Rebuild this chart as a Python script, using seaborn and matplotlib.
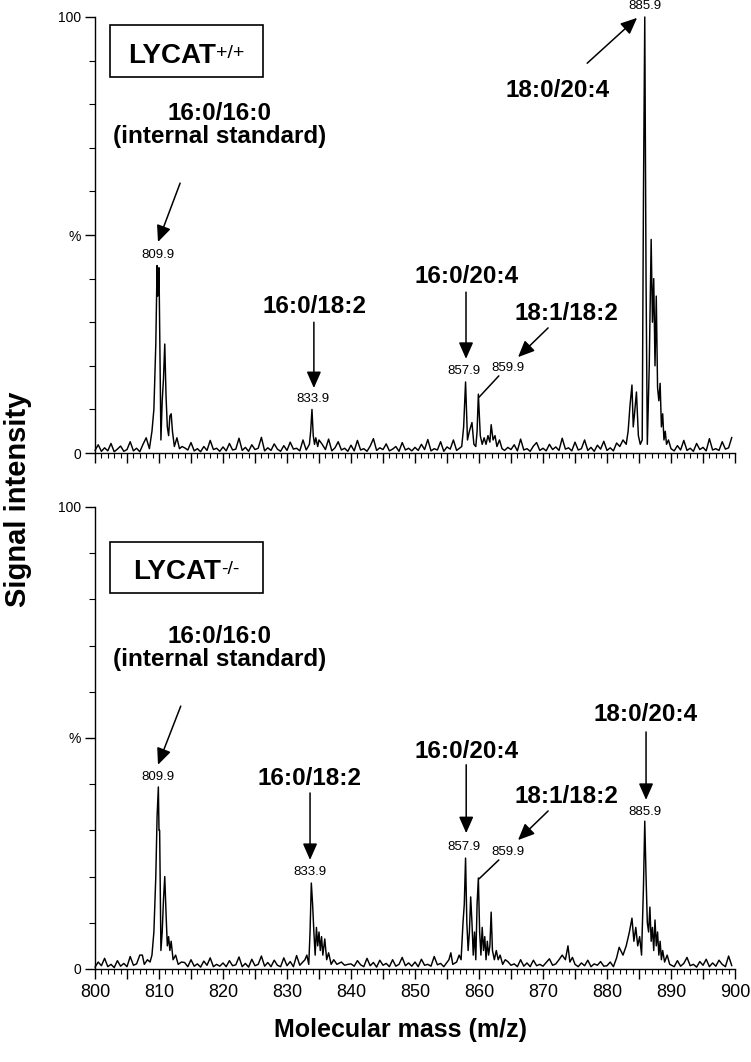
import numpy as np
import pandas as pd
import seaborn as sns
import matplotlib.pyplot as plt
from matplotlib.ticker import MultipleLocator, FixedLocator, FuncFormatter
from matplotlib.patches import Rectangle

# baseline noise, one value every 0.5 m/z from 800 to 899.5
noise_top = [
    0.6, 1.9, 0.4, 1.2, 0.5, 2.2, 0.3, 0.9, 1.6, 0.4, 0.8, 2.6, 0.5, 1.1, 0.3, 1.7, 0.7, 3.1, 0.6, 1.0,
    0.4, 1.3, 0.6, 2.0, 0.5, 0.9, 1.8, 0.4, 1.2, 0.7, 2.4, 0.5, 1.0, 0.3, 1.5, 0.6, 2.9, 0.8, 1.1, 0.4,
    1.4, 0.5, 2.2, 0.7, 0.9, 3.4, 0.6, 1.3, 0.4, 1.9, 0.8, 1.1, 3.6, 0.5, 1.2, 0.6, 2.1, 0.9, 0.4, 1.7,
    0.6, 2.5, 0.9, 1.1, 0.5, 3.0, 0.7, 1.4, 2.3, 0.6, 1.0, 2.0, 0.8, 3.2, 0.5, 1.2, 2.6, 0.7, 1.1, 0.4,
    1.8, 0.5, 2.9, 0.7, 1.0, 0.4, 1.6, 3.3, 0.6, 1.2, 0.8, 2.1, 0.5, 0.9, 1.5, 0.4, 2.4, 0.7, 1.1, 0.5,
    1.3, 0.6, 2.0, 0.8, 3.1, 0.5, 1.0, 0.7, 2.6, 0.4, 1.4, 0.9, 3.0, 0.6, 1.2, 0.5, 2.2, 0.8, 1.0, 0.6,
    0.7, 1.5, 0.5, 2.3, 0.9, 1.1, 0.4, 2.8, 0.6, 1.3, 0.8, 1.9, 0.5, 3.2, 0.7, 1.0, 0.4, 1.6, 2.4, 0.6,
    1.1, 0.5, 2.0, 0.8, 1.4, 0.6, 3.4, 0.9, 1.2, 0.5, 2.5, 0.7, 1.0, 3.0, 0.6, 1.3, 0.4, 1.8, 0.9, 2.7,
    0.6, 1.2, 0.5, 2.3, 3.5, 0.8, 1.0, 0.6, 2.0, 0.9, 1.1, 0.5, 1.4, 0.7, 2.2, 0.6, 1.0, 0.8, 1.5, 0.4,
    1.0, 0.5, 1.7, 0.7, 2.9, 0.6, 1.1, 0.4, 2.2, 0.8, 1.3, 0.5, 3.3, 0.7, 1.0, 0.6, 2.6, 0.9, 1.2, 3.6,
]
noise_bottom = [
    0.4, 1.5, 0.7, 2.3, 0.5, 1.0, 0.3, 1.8, 0.6, 1.2, 0.5, 2.7, 0.8, 1.1, 3.0, 0.4, 1.3, 0.6, 2.0, 0.9,
    0.5, 1.2, 0.6, 1.9, 0.4, 1.0, 2.2, 0.7, 1.4, 0.5, 2.0, 0.6, 1.1, 0.4, 1.7, 0.8, 2.4, 0.5, 1.0, 0.6,
    1.3, 0.5, 1.8, 0.7, 0.9, 2.6, 0.5, 1.2, 0.4, 2.1, 0.7, 1.0, 2.8, 0.6, 1.4, 0.5, 1.9, 0.8, 0.5, 2.4,
    0.7, 1.6, 0.5, 2.9, 0.8, 1.2, 3.1, 0.6, 1.0, 2.2, 0.5, 1.3, 0.7, 1.8, 0.4, 1.1, 0.6, 1.5, 0.8, 1.0,
    1.1, 0.6, 1.8, 0.9, 0.5, 2.3, 0.7, 1.4, 0.4, 1.9, 0.8, 1.2, 0.5, 2.0, 0.6, 1.0, 2.5, 0.7, 1.3, 0.6,
    1.5, 0.5, 2.1, 0.8, 1.0, 0.6, 2.7, 0.9, 1.2, 0.5, 1.8, 3.0, 1.4, 0.6, 1.0, 0.7, 1.2, 0.5, 0.9, 0.6,
    0.7, 1.2, 0.5, 1.7, 0.8, 1.0, 0.6, 1.4, 0.5, 1.6, 0.8, 1.1, 0.5, 2.0, 0.6, 1.3, 0.5, 1.9, 0.7, 1.0,
    0.6, 1.4, 2.2, 0.8, 1.1, 0.5, 1.7, 0.9, 2.6, 0.6, 1.0, 0.5, 1.3, 0.7, 1.9, 0.5, 1.1, 0.8, 1.6, 0.6,
    0.7, 1.5, 0.5, 2.4, 0.9, 1.1, 0.6, 1.8, 0.5, 1.2, 0.8, 1.0, 0.6, 1.4, 0.5, 1.2, 0.7, 1.0, 0.5, 1.3,
    0.9, 0.5, 1.8, 0.6, 1.2, 2.5, 0.7, 1.0, 0.4, 1.6, 0.8, 2.1, 0.5, 1.3, 0.6, 1.9, 1.0, 0.5, 2.8, 0.7,
]
noise_mz = np.arange(800, 900, 0.5)

# peak clusters, LYCAT+/+
peak_mz_top = [
    807.5, 808.0, 808.5, 808.9, 809.2, 809.5, 809.7, 809.8, 809.9, 810.0, 810.1, 810.3, 810.5,
    810.7, 810.9, 811.1, 811.3, 811.5, 811.7, 811.9, 812.1, 812.4, 812.8, 813.2, 813.6,
    833.5, 833.7, 833.9, 834.1, 834.3, 834.5, 834.8, 835.0,
    857.3, 857.6, 857.9, 858.2, 858.5, 858.9, 859.2, 859.5, 859.7, 859.9, 860.2, 860.5, 860.8,
    861.1, 861.4, 861.7, 861.9, 862.2, 862.5, 862.8, 863.2, 863.6,
    882.0, 882.5, 883.0, 883.3, 883.6, 883.9, 884.1, 884.3, 884.6, 884.9, 885.2, 885.5, 885.7,
    885.9, 886.1, 886.3, 886.6, 886.9, 887.1, 887.3, 887.5, 887.7, 887.9, 888.1, 888.3, 888.5,
    888.7, 888.9, 889.1, 889.3, 889.6, 890.0,
]
peak_int_top = [
    2.0, 3.5, 1.0, 5.0, 10.0, 25.0, 43.0, 36.0, 38.0, 42.5, 30.0, 3.0, 12.0,
    17.0, 25.0, 13.0, 6.0, 4.0, 8.5, 9.0, 5.0, 1.5, 3.5, 1.0, 1.5,
    2.0, 5.0, 10.0, 4.0, 2.0, 3.5, 1.5, 3.0,
    1.5, 6.0, 16.3, 3.0, 5.0, 7.0, 2.0, 1.5, 5.0, 13.5, 4.0, 2.0, 3.5,
    2.0, 4.0, 2.5, 6.5, 3.0, 4.0, 1.5, 3.0, 1.0,
    1.5, 3.0, 2.0, 5.0, 11.0, 15.6, 6.0, 9.0, 14.0, 4.0, 2.0, 3.0, 60.0,
    100.0, 40.0, 2.0, 20.0, 49.0, 30.0, 40.0, 20.0, 36.0, 15.0, 12.0, 16.0, 6.0,
    9.0, 3.0, 5.0, 2.0, 3.0, 1.0,
]

# peak clusters, LYCAT-/-
peak_mz_bottom = [
    807.4, 807.7, 808.2, 808.6, 808.9, 809.2, 809.5, 809.7, 809.9, 810.0, 810.1, 810.3, 810.5,
    810.7, 810.9, 811.1, 811.3, 811.5, 811.7, 811.9, 812.2, 812.6, 813.0, 813.5,
    832.8, 833.1, 833.4, 833.6, 833.8, 834.0, 834.2, 834.4, 834.6, 834.8, 835.0, 835.2, 835.4,
    835.6, 835.9, 836.2, 836.5, 836.9, 837.3, 837.8,
    855.3, 855.6, 855.9, 856.5, 856.9, 857.2, 857.5, 857.7, 857.9, 858.1, 858.3, 858.5, 858.7,
    858.9, 859.1, 859.3, 859.5, 859.7, 859.9, 860.1, 860.3, 860.5, 860.7, 860.9, 861.1, 861.3,
    861.5, 861.7, 861.9, 862.1, 862.4, 862.7, 863.0, 863.3, 863.7, 864.1,
    872.5, 873.0, 873.5, 873.9, 874.2, 874.6,
    881.9, 882.5, 883.0, 883.5, 883.9, 884.2, 884.5, 884.8, 885.1, 885.4, 885.7, 885.9, 886.1,
    886.3, 886.5, 886.7, 886.9, 887.1, 887.3, 887.5, 887.7, 887.9, 888.1, 888.3, 888.5, 888.7,
    889.0, 889.4, 889.8,
]
peak_int_bottom = [
    3.0, 1.0, 2.0, 1.5, 3.0, 8.0, 20.0, 33.0, 39.4, 30.0, 30.0, 4.0, 8.0,
    15.0, 20.0, 12.0, 5.0, 7.0, 4.0, 6.0, 2.0, 3.0, 1.0, 1.5,
    2.0, 3.0, 1.0, 8.0, 18.6, 14.0, 8.0, 3.0, 9.0, 5.0, 8.0, 4.0, 7.0,
    3.0, 6.5, 2.0, 3.5, 1.0, 2.0, 1.0,
    2.0, 3.5, 1.0, 1.5, 3.0, 2.0, 10.0, 14.0, 24.0, 10.0, 4.0, 8.0, 15.6,
    10.0, 3.0, 8.0, 2.0, 14.0, 19.7, 8.0, 3.0, 9.0, 4.0, 7.0, 2.0, 6.0,
    3.0, 5.0, 12.3, 4.0, 2.0, 4.0, 2.0, 3.0, 1.0, 2.0,
    2.0, 3.0, 2.0, 5.0, 1.5, 2.5,
    4.7, 3.0, 5.0, 8.0, 11.0, 6.0, 9.0, 5.0, 7.0, 3.0, 18.0, 32.0, 20.0,
    10.0, 8.0, 13.4, 6.0, 9.0, 4.0, 10.6, 5.0, 8.0, 3.0, 6.0, 2.0, 4.0,
    1.5, 3.0, 1.0,
]

# label text, label position, arrow start/end, peak tag
labels_top = [
    ("16:0/16:0\n(internal standard)", (819.4, 71.1), (813.3, 61.9), (809.84, 48.4), "809.9", (809.8, 45.4)),
    ("16:0/18:2", (834.3, 32.1), (834.2, 30.0), (834.2, 14.9), "833.9", (834.1, 12.4)),
    ("16:0/20:4", (858.0, 39.0), (857.97, 36.9), (857.97, 21.6), "857.9", (857.7, 18.8)),
    ("18:1/18:2", (873.6, 30.5), (870.8, 28.7), (866.1, 22.0), "859.9", (864.5, 19.5)),
    ("18:0/20:4", (872.3, 81.7), (876.9, 89.4), (884.7, 99.8), "885.9", (885.9, 102.5)),
]
labels_bottom = [
    ("16:0/16:0\n(internal standard)", (819.4, 65.6), (813.4, 56.9), (809.84, 44.2), "809.9", (809.9, 41.6)),
    ("16:0/18:2", (833.5, 39.8), (833.6, 38.1), (833.6, 23.6), "833.9", (833.6, 21.0)),
    ("16:0/20:4", (858.0, 45.7), (858.0, 44.2), (858.0, 29.4), "857.9", (857.7, 26.4)),
    ("18:1/18:2", (873.6, 35.9), (870.8, 34.2), (866.1, 27.9), "859.9", (864.5, 25.3)),
    ("18:0/20:4", (886.1, 53.7), (886.1, 51.3), (886.1, 36.6), "885.9", (885.9, 34.0)),
]
# thin leader from the 859.9 tag to its peak
leader_top = ((863.1, 17.7), (860.0, 12.8))
leader_bottom = ((863.1, 23.6), (860.0, 19.5))

sns.set_style("ticks")
plt.rcParams['font.family'] = ['Liberation Sans', 'DejaVu Sans']
for key in ["text.color", "axes.labelcolor", "xtick.color", "ytick.color", "axes.edgecolor"]:
    plt.rcParams[key] = "black"


def build_spectrum(noise, pk_mz, pk_int):
    pk_mz = np.array(pk_mz)
    keep = [np.min(np.abs(pk_mz - m)) > 0.3 for m in noise_mz]
    df = pd.DataFrame({
        "mz": np.concatenate([noise_mz[keep], pk_mz]),
        "intensity": np.concatenate([np.array(noise)[keep], np.array(pk_int)]),
    })
    return df.sort_values("mz").reset_index(drop=True)


def draw_panel(ax, df, labels, leader, genotype, box_y, text_y, text_x):
    sns.lineplot(data=df, x="mz", y="intensity", ax=ax, color="black",
                 linewidth=1.05, estimator=None, sort=True)
    for line in ax.lines:
        line.set_clip_on(False)
    ax.set_xlim(800, 900)
    ax.set_ylim(0, 100)
    ax.set_xlabel("")
    ax.set_ylabel("")
    sns.despine(ax=ax)
    for s in ["left", "bottom"]:
        ax.spines[s].set_linewidth(1.0)

    ax.xaxis.set_major_locator(MultipleLocator(5))
    ax.xaxis.set_minor_locator(MultipleLocator(1))
    ax.xaxis.set_major_formatter(FuncFormatter(lambda v, p: f"{v:.0f}" if v % 10 == 0 else ""))
    ax.yaxis.set_major_locator(FixedLocator([0, 50, 100]))
    ax.yaxis.set_minor_locator(MultipleLocator(10))
    ax.set_yticklabels(["0", "%", "100"])
    ax.tick_params(axis="x", which="major", length=7, width=1.0, labelsize=13, pad=4)
    ax.tick_params(axis="x", which="minor", length=3.5, width=0.8)
    ax.tick_params(axis="y", which="major", length=7, width=1.0, labelsize=10, pad=3)
    ax.tick_params(axis="y", which="minor", length=4, width=0.8)

    for text, tpos, a0, a1, tag, gpos in labels:
        ax.text(tpos[0], tpos[1], text, ha="center", va="baseline", fontsize=17.5,
                fontweight="bold", linespacing=1.0)
        ax.annotate("", xy=a1, xytext=a0,
                    arrowprops=dict(arrowstyle="-|>,head_length=0.5,head_width=0.22",
                                    color="black", lw=1.1, mutation_scale=20,
                                    shrinkA=0, shrinkB=0))
        ax.text(gpos[0], gpos[1], tag, ha="center", va="center", fontsize=9.5)
    ax.plot([leader[0][0], leader[1][0]], [leader[0][1], leader[1][1]],
            color="black", lw=1.1)

    ax.add_patch(Rectangle((0.023, box_y[0]), 0.2395, box_y[1] - box_y[0],
                           transform=ax.transAxes, fill=False, lw=1.2,
                           edgecolor="black", clip_on=False))
    t = ax.text(text_x, text_y, "LYCAT", transform=ax.transAxes, ha="left",
                va="baseline", fontsize=20, fontweight="bold")
    ax.annotate(genotype, xy=(1.0, 1.0), xycoords=t, xytext=(0.3, -1.5),
                textcoords="offset points", ha="left", va="top", fontsize=14)


fig = plt.figure(figsize=(7.51, 10.62), dpi=100)
ax_top = fig.add_axes([0.1265, 0.5734, 0.8522, 0.4106])
ax_bot = fig.add_axes([0.1265, 0.0876, 0.8522, 0.4350])

draw_panel(ax_top, build_spectrum(noise_top, peak_mz_top, peak_int_top),
           labels_top, leader_top, "+/+", (0.862, 0.982), 0.8945, 0.0516)
draw_panel(ax_bot, build_spectrum(noise_bottom, peak_mz_bottom, peak_int_bottom),
           labels_bottom, leader_bottom, "-/-", (0.814, 0.924), 0.844, 0.059)
ax_top.tick_params(axis="x", labelbottom=False)

fig.text(0.024, 0.53, "Signal intensity", rotation=90, ha="center", va="center",
         fontsize=21, fontweight="bold")
fig.text(0.533, 0.024, "Molecular mass (m/z)", ha="center", va="baseline",
         fontsize=18, fontweight="bold")

fig.savefig("out.png", dpi=100)
